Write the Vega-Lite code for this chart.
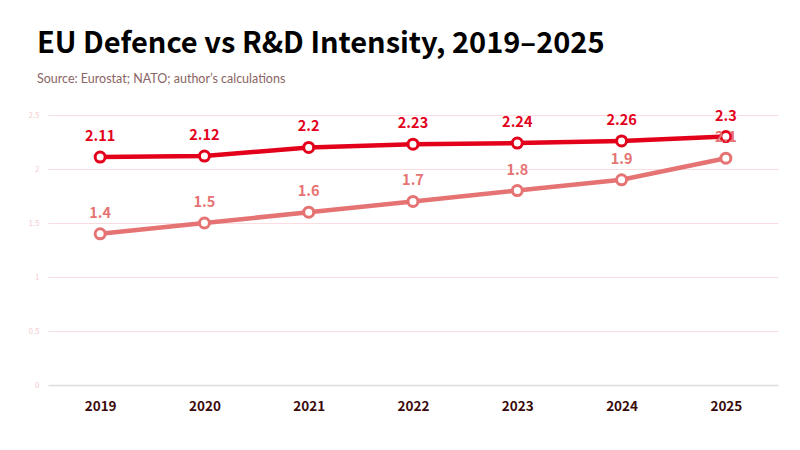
{
  "$schema": "https://vega.github.io/schema/vega-lite/v6.json",
  "width": 730,
  "height": 270,
  "autosize": {"type": "none"},
  "padding": {"left": 48, "top": 115, "right": 22, "bottom": 65},
  "background": "white",
  "title": {
    "text": "EU Defence vs R&D Intensity, 2019–2025",
    "subtitle": "Source: Eurostat; NATO; author’s calculations",
    "anchor": "start",
    "frame": "group",
    "dx": -11,
    "offset": 23,
    "font": "Noto Sans CJK SC",
    "fontSize": 29,
    "fontWeight": "bold",
    "color": "#000000",
    "subtitleFont": "Lato",
    "subtitleFontSize": 12.5,
    "subtitleColor": "#8a6464",
    "subtitlePadding": 14
  },
  "data": {
    "values": [
      {"year": "2019", "series": "Defence", "value": 2.11},
      {"year": "2020", "series": "Defence", "value": 2.12},
      {"year": "2021", "series": "Defence", "value": 2.2},
      {"year": "2022", "series": "Defence", "value": 2.23},
      {"year": "2023", "series": "Defence", "value": 2.24},
      {"year": "2024", "series": "Defence", "value": 2.26},
      {"year": "2025", "series": "Defence", "value": 2.3},
      {"year": "2019", "series": "R&D", "value": 1.4},
      {"year": "2020", "series": "R&D", "value": 1.5},
      {"year": "2021", "series": "R&D", "value": 1.6},
      {"year": "2022", "series": "R&D", "value": 1.7},
      {"year": "2023", "series": "R&D", "value": 1.8},
      {"year": "2024", "series": "R&D", "value": 1.9},
      {"year": "2025", "series": "R&D", "value": 2.1}
    ]
  },
  "encoding": {
    "x": {
      "field": "year",
      "type": "ordinal",
      "scale": {"type": "point", "padding": 0.5},
      "axis": {
        "title": null,
        "labelAngle": 0,
        "labelFont": "Noto Sans CJK SC",
        "labelFontWeight": "bold",
        "labelFontSize": 13.5,
        "labelColor": "#3a0a0a",
        "labelPadding": 14,
        "ticks": false,
        "domainColor": "#dddddd",
        "domainWidth": 1.5,
        "grid": false
      }
    },
    "y": {
      "field": "value",
      "type": "quantitative",
      "scale": {"domain": [0, 2.5], "nice": false},
      "axis": {
        "title": null,
        "values": [0, 0.5, 1, 1.5, 2, 2.5],
        "format": "~g",
        "labelFont": "Noto Sans CJK SC",
        "labelFontSize": 8,
        "labelColor": "#f5cdd1",
        "labelPadding": 9,
        "ticks": false,
        "domain": false,
        "gridColor": "#f9dde0",
        "gridWidth": 1
      }
    },
    "color": {
      "field": "series",
      "type": "nominal",
      "legend": null,
      "scale": {"domain": ["Defence", "R&D"], "range": ["#e3001b", "#e57373"]}
    }
  },
  "layer": [
    {
      "mark": {"type": "line", "strokeWidth": 4.5},
      "encoding": {
        "strokeWidth": {
          "field": "series",
          "type": "nominal",
          "legend": null,
          "scale": {"domain": ["Defence", "R&D"], "range": [4, 5]}
        }
      }
    },
    {
      "mark": {"type": "point", "filled": false, "fill": "white", "fillOpacity": 1, "size": 100, "strokeWidth": 3, "opacity": 1}
    },
    {
      "mark": {"type": "text", "dy": -20, "font": "Noto Sans CJK SC", "fontWeight": "bold", "fontSize": 14.5},
      "encoding": {
        "text": {"field": "value", "type": "quantitative"},
        "color": {
          "field": "series",
          "type": "nominal",
          "legend": null,
          "scale": {"domain": ["Defence", "R&D"], "range": ["#f40010", "#e98080"]}
        }
      }
    }
  ],
  "config": {
    "view": {"stroke": null}
  }
}
